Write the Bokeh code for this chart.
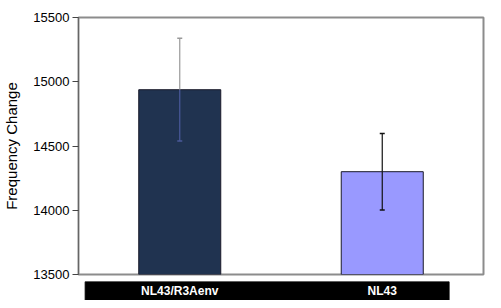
from bokeh.plotting import figure
from bokeh.layouts import column
from bokeh.models import Range1d, FixedTicker
from bokeh.embed import file_html
from bokeh.resources import INLINE
from bokeh.core.properties import value

categories = ["NL43/R3Aenv", "NL43"]
means = [14938, 14300]
errors = [400, 298]
y_ticks = [13500, 14000, 14500, 15000, 15500]
y_min, y_max = 13500, 15500

bar_colors = ["#203350", "#9999FF"]
err_upper_colors = ["#999999", "#111111"]
err_lower_colors = ["#4a5a9a", "#111111"]

FONT = "Liberation Sans"
xs = [i + 0.5 for i in range(len(categories))]

p = figure(width=485, height=281, x_range=Range1d(0, len(categories)),
           y_range=Range1d(y_min, y_max), output_backend="svg",
           toolbar_location=None, x_axis_location=None,
           min_border_left=63, min_border_right=2, min_border_top=17,
           min_border_bottom=7)
p.xgrid.visible = False
p.ygrid.visible = False
p.outline_line_color = "#8c8c8c"
p.outline_line_width = 2
p.background_fill_color = "white"
p.border_fill_color = "white"

ax = p.yaxis[0]
ax.ticker = FixedTicker(ticks=y_ticks)
ax.axis_label = "Frequency Change"
ax.axis_label_text_font = FONT
ax.axis_label_text_font_size = "15px"
ax.axis_label_text_font_style = "normal"
ax.axis_label_text_color = "black"
ax.axis_label_standoff = 10
ax.major_label_text_font = FONT
ax.major_label_text_font_size = "13px"
ax.major_label_text_color = "black"
ax.major_label_standoff = 3
ax.major_tick_out = 6
ax.major_tick_in = 0
ax.minor_tick_out = 0
ax.minor_tick_in = 0
ax.axis_line_color = "#666666"
ax.major_tick_line_color = "#444444"

p.vbar(x=xs, top=means, bottom=y_min, width=0.405, fill_color=bar_colors,
       line_color="#1a1a2a", line_width=1)

for i in range(len(categories)):
    x = xs[i]
    m = means[i]
    e = errors[i]
    p.segment(x0=[x], y0=[m], x1=[x], y1=[m + e], line_color=err_upper_colors[i], line_width=1.2)
    p.segment(x0=[x], y0=[m - e], x1=[x], y1=[m], line_color=err_lower_colors[i], line_width=1.2)
    p.scatter(x=[x], y=[m + e], marker="dash", size=5, line_color=err_upper_colors[i], line_width=1.5)
    p.scatter(x=[x], y=[m - e], marker="dash", size=5, line_color=err_lower_colors[i], line_width=1.5)

band = figure(width=485, height=19, x_range=p.x_range, y_range=Range1d(0, 1),
              output_backend="svg", toolbar_location=None,
              x_axis_location=None, y_axis_location=None,
              min_border_left=63, min_border_right=2, min_border_top=0,
              min_border_bottom=0)
band.outline_line_color = None
band.xgrid.visible = False
band.ygrid.visible = False
band.quad(left=0.033, right=1.83, bottom=0, top=1, fill_color="black", line_color="black")
band.text(x=xs, y=[0.5] * len(xs), text=categories, text_color="white",
          text_font=value(FONT), text_font_size="12px", text_font_style="bold",
          text_align="center", text_baseline="middle")

layout = column(p, band, spacing=0)
open("out.html", "w").write(file_html(layout, INLINE))
